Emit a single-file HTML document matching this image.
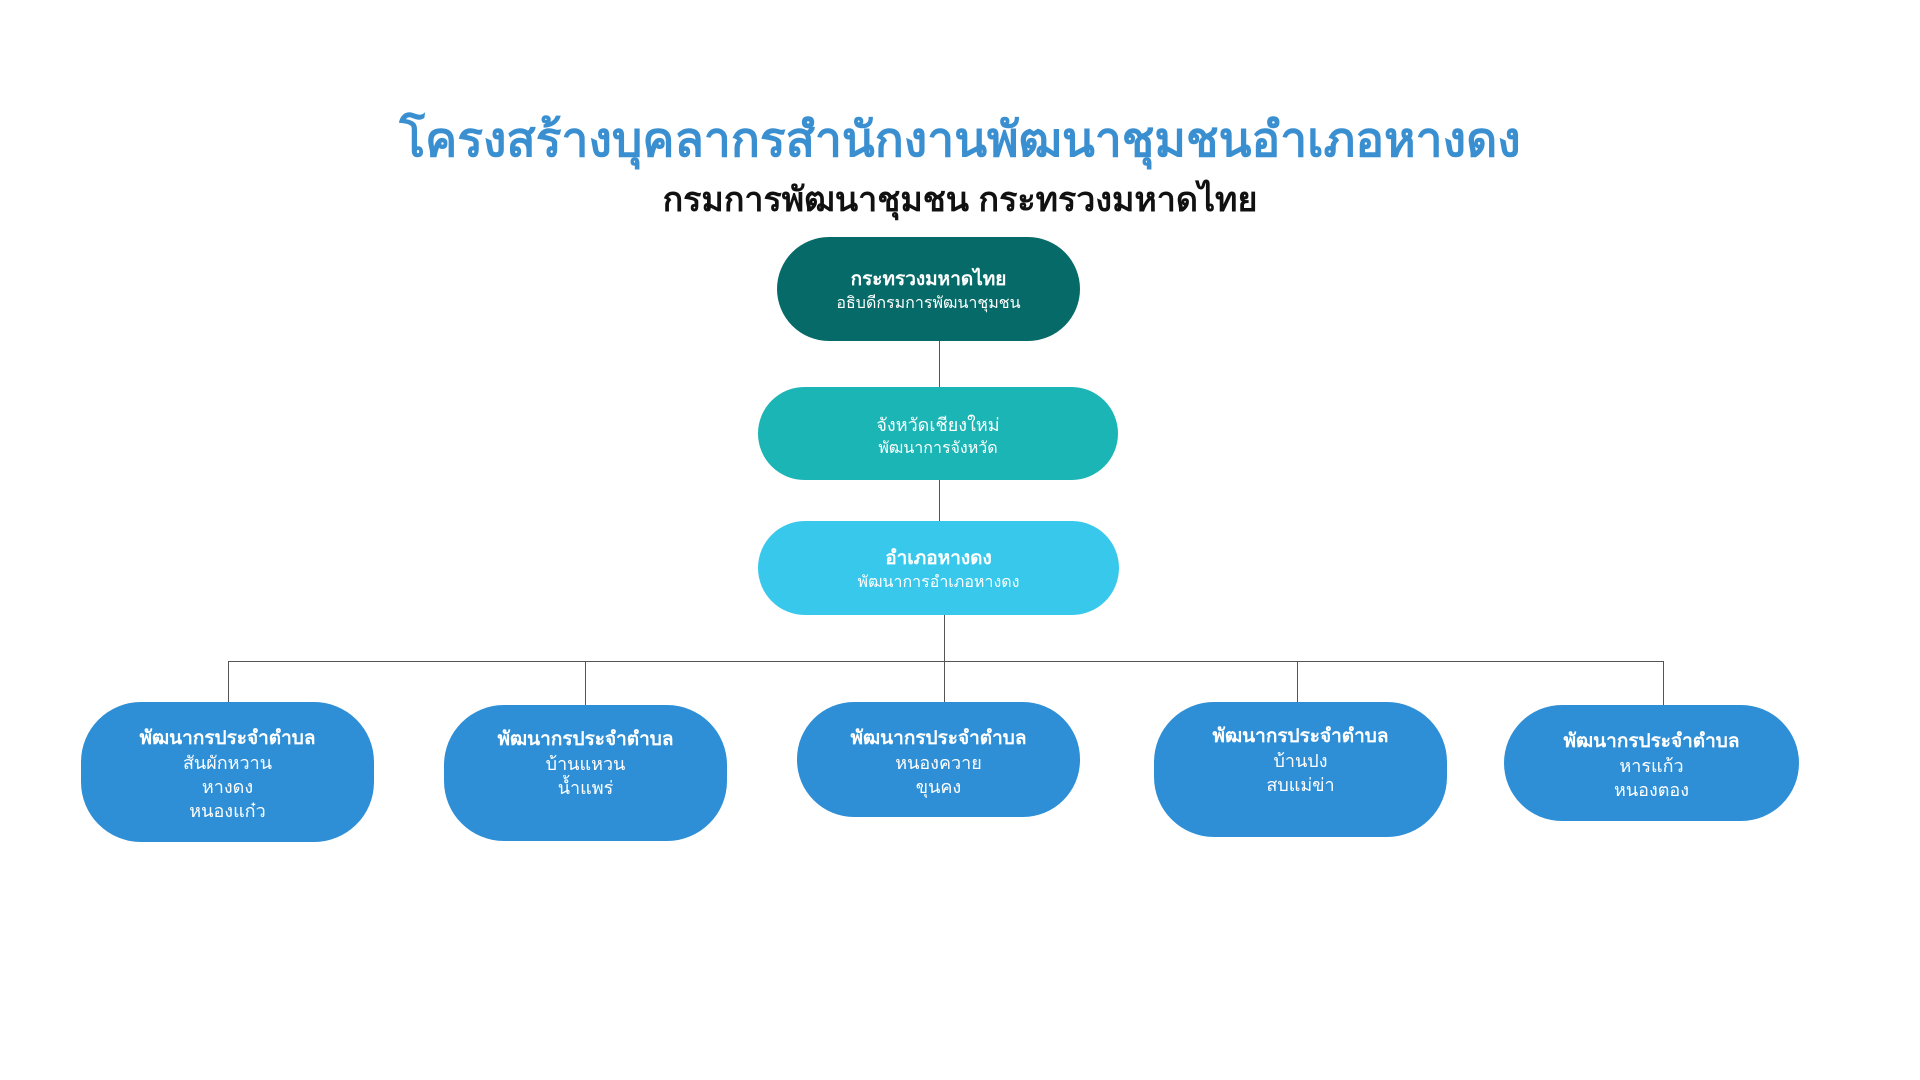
<!DOCTYPE html>
<html><head><meta charset="utf-8">
<style>
body{margin:0;width:1920px;height:1080px;background:#fff;position:relative;overflow:hidden;font-family:"Liberation Sans",sans-serif;}
.t{position:absolute;left:0;width:1920px;text-align:center;font-weight:bold;}
.n{position:absolute;box-sizing:border-box;padding-top:6px;display:flex;flex-direction:column;justify-content:center;align-items:center;color:#fff;text-align:center;font-size:18px;line-height:24px;}
.n b{font-size:19px;}
.l{position:absolute;background:#555;}
</style></head><body>
<div class="t" style="top:102px;font-size:48px;color:#3a8fd0;">โครงสร้างบุคลากรสำนักงานพัฒนาชุมชนอำเภอหางดง</div>
<div class="t" style="top:172px;font-size:34px;color:#111;">กรมการพัฒนาชุมชน กระทรวงมหาดไทย</div>

<div class="l" style="left:939px;top:341px;width:1px;height:46px"></div>
<div class="l" style="left:939px;top:480px;width:1px;height:41px"></div>
<div class="l" style="left:944px;top:615px;width:1px;height:46px"></div>
<div class="l" style="left:228px;top:661px;width:1436px;height:1px"></div>
<div class="l" style="left:228px;top:661px;width:1px;height:41px"></div>
<div class="l" style="left:585px;top:661px;width:1px;height:44px"></div>
<div class="l" style="left:944px;top:661px;width:1px;height:41px"></div>
<div class="l" style="left:1297px;top:661px;width:1px;height:41px"></div>
<div class="l" style="left:1663px;top:661px;width:1px;height:44px"></div>

<div class="n" style="left:777px;top:237px;width:303px;height:104px;border-radius:52px;background:#066b68"><b>กระทรวงมหาดไทย</b><span style="font-size:16px">อธิบดีกรมการพัฒนาชุมชน</span></div>
<div class="n" style="left:758px;top:387px;width:360px;height:93px;border-radius:47px;background:#1ab5b4"><span>จังหวัดเชียงใหม่</span><span style="font-size:16px">พัฒนาการจังหวัด</span></div>
<div class="n" style="left:758px;top:521px;width:361px;height:94px;border-radius:47px;background:#38c8ec"><b>อำเภอหางดง</b><span style="font-size:16px">พัฒนาการอำเภอหางดง</span></div>

<div class="n" style="left:81px;top:702px;width:293px;height:140px;border-radius:60px;background:#2e8fd6"><b>พัฒนากรประจำตำบล</b><span>สันผักหวาน</span><span>หางดง</span><span>หนองแก๋ว</span></div>
<div class="n" style="left:444px;top:705px;width:283px;height:136px;border-radius:60px;background:#2e8fd6"><b>พัฒนากรประจำตำบล</b><span>บ้านแหวน</span><span>น้ำแพร่</span><div style="height:24px"></div></div>
<div class="n" style="left:797px;top:702px;width:283px;height:115px;border-radius:57px;background:#2e8fd6"><b>พัฒนากรประจำตำบล</b><span>หนองควาย</span><span>ขุนคง</span></div>
<div class="n" style="left:1154px;top:702px;width:293px;height:135px;border-radius:60px;background:#2e8fd6"><b>พัฒนากรประจำตำบล</b><span>บ้านปง</span><span>สบแม่ข่า</span><div style="height:24px"></div></div>
<div class="n" style="left:1504px;top:705px;width:295px;height:116px;border-radius:58px;background:#2e8fd6"><b>พัฒนากรประจำตำบล</b><span>หารแก้ว</span><span>หนองตอง</span></div>
</body></html>
